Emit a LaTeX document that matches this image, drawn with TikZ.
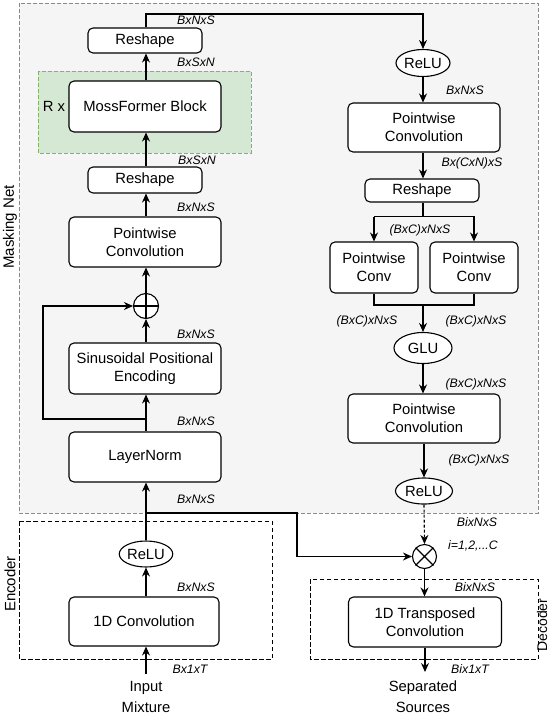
\documentclass[tikz,border=0pt]{standalone}
\usepackage{fontspec}
\setmainfont{Liberation Sans}
\usetikzlibrary{arrows.meta,shapes.geometric}
\definecolor{maskfill}{HTML}{F5F5F5}
\definecolor{maskline}{HTML}{8A8A8A}
\definecolor{greenfill}{HTML}{D5E8D4}
\definecolor{greenline}{HTML}{82B366}
\begin{document}
\begin{tikzpicture}[x=1pt,y=-1pt,line width=1.1pt,
  box/.style={draw,rounded corners=5pt,fill=white,align=center,inner sep=0pt,
    font=\fontsize{14.8}{18}\selectfont},
  ell/.style={draw,ellipse,fill=white,inner sep=0pt,font=\fontsize{14.8}{18}\selectfont},
  opc/.style={draw,circle,fill=white,inner sep=0pt,minimum size=25pt},
  lbl/.style={font=\fontsize{12.3}{14}\selectfont\itshape,inner sep=0pt},
  side/.style={font=\fontsize{15}{18}\selectfont,rotate=90,inner sep=0pt},
  io/.style={align=center,font=\fontsize{14.8}{21}\selectfont,inner sep=0pt},
  arr/.style={-{Stealth[length=9pt,width=8pt]}},
  encbox/.style={draw,dash pattern=on 4.5pt off 2.5pt,line width=1pt}]
\useasboundingbox (0,0) rectangle (550,716);
% containers
\draw[fill=maskfill,draw=maskline,dash pattern=on 4pt off 2pt,line width=0.9pt] (19,3) rectangle (538,513);
\draw[encbox] (19,521) rectangle (272,659);
\draw[encbox] (310,579) rectangle (538,659);
\draw[fill=greenfill,draw=greenline,dash pattern=on 4pt off 2pt,line width=0.9pt] (38,71) rectangle (251,153);
\node[side] (lmask) at (10,227) {Masking Net};
\node[side] (lenc) at (10,584) {Encoder};
\node[side,font=\fontsize{14}{17}\selectfont] (ldec) at (542,625) {Decoder};
% left column
\node[box,minimum width=114pt,minimum height=25pt] (rs1) at (145,40.5) {Reshape};
\node[box,minimum width=152pt,minimum height=51pt] (moss) at (145,106.5) {MossFormer Block};
\node[font=\fontsize{14.8}{18}\selectfont,inner sep=0pt] (rx) at (54,106) {R x};
\node[box,minimum width=114pt,minimum height=26pt] (rs2) at (145,180) {Reshape};
\node[box,minimum width=152pt,minimum height=50pt] (pw1) at (145,242) {Pointwise\\Convolution};
\node[opc] (plus) at (146,306) {};
\draw (plus.north) -- (plus.south) (plus.west) -- (plus.east);
\node[box,minimum width=152pt,minimum height=51pt] (sin) at (145,368.5) {Sinusoidal Positional\\Encoding};
\node[box,minimum width=152pt,minimum height=50pt] (ln) at (145,457) {LayerNorm};
\node[ell,minimum width=50pt,minimum height=26pt] (relu1) at (146,554) {ReLU};
\node[box,minimum width=150pt,minimum height=49pt] (conv1) at (144,621.5) {1D Convolution};
\node[io] (inp) at (146,697) {Input\\Mixture};
\coordinate (inarr) at (146,674);
% right column
\node[ell,minimum width=54pt,minimum height=27pt] (relu2) at (423,63) {ReLU};
\node[box,minimum width=152pt,minimum height=49pt] (pw2) at (424,127.5) {Pointwise\\Convolution};
\node[box,minimum width=114pt,minimum height=23pt] (rs3) at (422,190.5) {Reshape};
\node[box,minimum width=88pt,minimum height=51pt] (pc1) at (374,267.5) {Pointwise\\Conv};
\node[box,minimum width=88pt,minimum height=51pt] (pc2) at (474,267.5) {Pointwise\\Conv};
\node[ell,minimum width=58pt,minimum height=31pt] (glu) at (423,348) {GLU};
\node[box,minimum width=152pt,minimum height=49pt] (pw3) at (424,418.5) {Pointwise\\Convolution};
\node[ell,minimum width=57pt,minimum height=26pt] (relu3) at (424,491) {ReLU};
\node[opc,minimum size=24pt] (mul) at (424.5,556.5) {};
\draw (mul.north east) -- (mul.south west) (mul.north west) -- (mul.south east);
\node[box,minimum width=153pt,minimum height=50pt] (tconv) at (425,622) {1D Transposed\\Convolution};
\node[io] (sep) at (423,697) {Separated\\Sources};
\coordinate (outarr) at (425,672);
% connectors left
\draw[arr] (inarr) -- (conv1.south -| inarr);
\draw[arr] (conv1.north -| relu1) -- (relu1.south);
\draw[arr] (relu1.north) -- (ln.south -| relu1);
\draw[arr] (ln.north -| relu1) -- (sin.south -| relu1);
\draw[arr] (sin.north -| plus) -- (plus.south);
\coordinate (fb) at (146,419);
\draw[arr] (fb) -- (43,419) -- (43,306) -- (plus.west);
\draw[arr] (plus.north) -- (pw1.south -| plus);
\draw[arr] (pw1.north -| plus) -- (rs2.south -| plus);
\draw[arr] (rs2.north -| plus) -- (moss.south -| plus);
\draw[arr] (moss.north -| plus) -- (rs1.south -| plus);
\draw[arr] (rs1.north -| plus) -- (146,14) -- (423,14) -- (relu2.north);
% connectors right
\draw[arr] (relu2.south) -- (pw2.north -| relu2);
\draw[arr] (pw2.south -| relu2) -- (rs3.north -| relu2);
\draw (rs3.south -| relu2) -- (423,216.5);
\draw[arr] (pc1.north |- 0,216.5) -- (pc2.north |- 0,216.5) -- (pc2.north);
\draw[arr] (pc1.north |- 0,216.5) -- (pc1.north);
\draw (pc1.south) -- (pc1.south |- 0,305) -- (pc2.south |- 0,305) -- (pc2.south);
\draw[arr] (423,305) -- (glu.north);
\draw[arr] (glu.south) -- (pw3.north -| glu);
\draw[arr] (pw3.south -| relu3) -- (relu3.north);
\draw[arr,dashed,dash pattern=on 3pt off 2pt] (relu3.south) -- (mul.north);
\coordinate (skip) at (146,513);
\draw[arr] (skip) -- (297,513) -- (297,556.5) -- (mul.west);
\draw[arr] (mul.south) -- (tconv.north -| mul);
\draw[arr] (tconv.south -| outarr) -- (outarr);
% labels
\node[lbl] (l1) at (196,20) {BxNxS};
\node[lbl] (l2) at (196,62) {BxSxN};
\node[lbl] (l3) at (197,160) {BxSxN};
\node[lbl] (l4) at (196,207) {BxNxS};
\node[lbl] (l5) at (196,334) {BxNxS};
\node[lbl] (l6) at (196,421) {BxNxS};
\node[lbl] (l7) at (196,499) {BxNxS};
\node[lbl] (l8) at (196,587) {BxNxS};
\node[lbl] (l9) at (190,669) {Bx1xT};
\node[lbl] (r1) at (465,90) {BxNxS};
\node[lbl] (r2) at (472,163) {Bx(CxN)xS};
\node[lbl] (r3) at (420,230) {(BxC)xNxS};
\node[lbl] (r4) at (367,321) {(BxC)xNxS};
\node[lbl] (r5) at (476,321) {(BxC)xNxS};
\node[lbl] (r6) at (476,384) {(BxC)xNxS};
\node[lbl] (r7) at (479,460) {(BxC)xNxS};
\node[lbl] (r8) at (477,522) {BixNxS};
\node[lbl] (r9) at (473,546) {i=1,2,...C};
\node[lbl] (r10) at (475,587) {BixNxS};
\node[lbl] (r11) at (470,669) {Bix1xT};
\end{tikzpicture}
\end{document}
